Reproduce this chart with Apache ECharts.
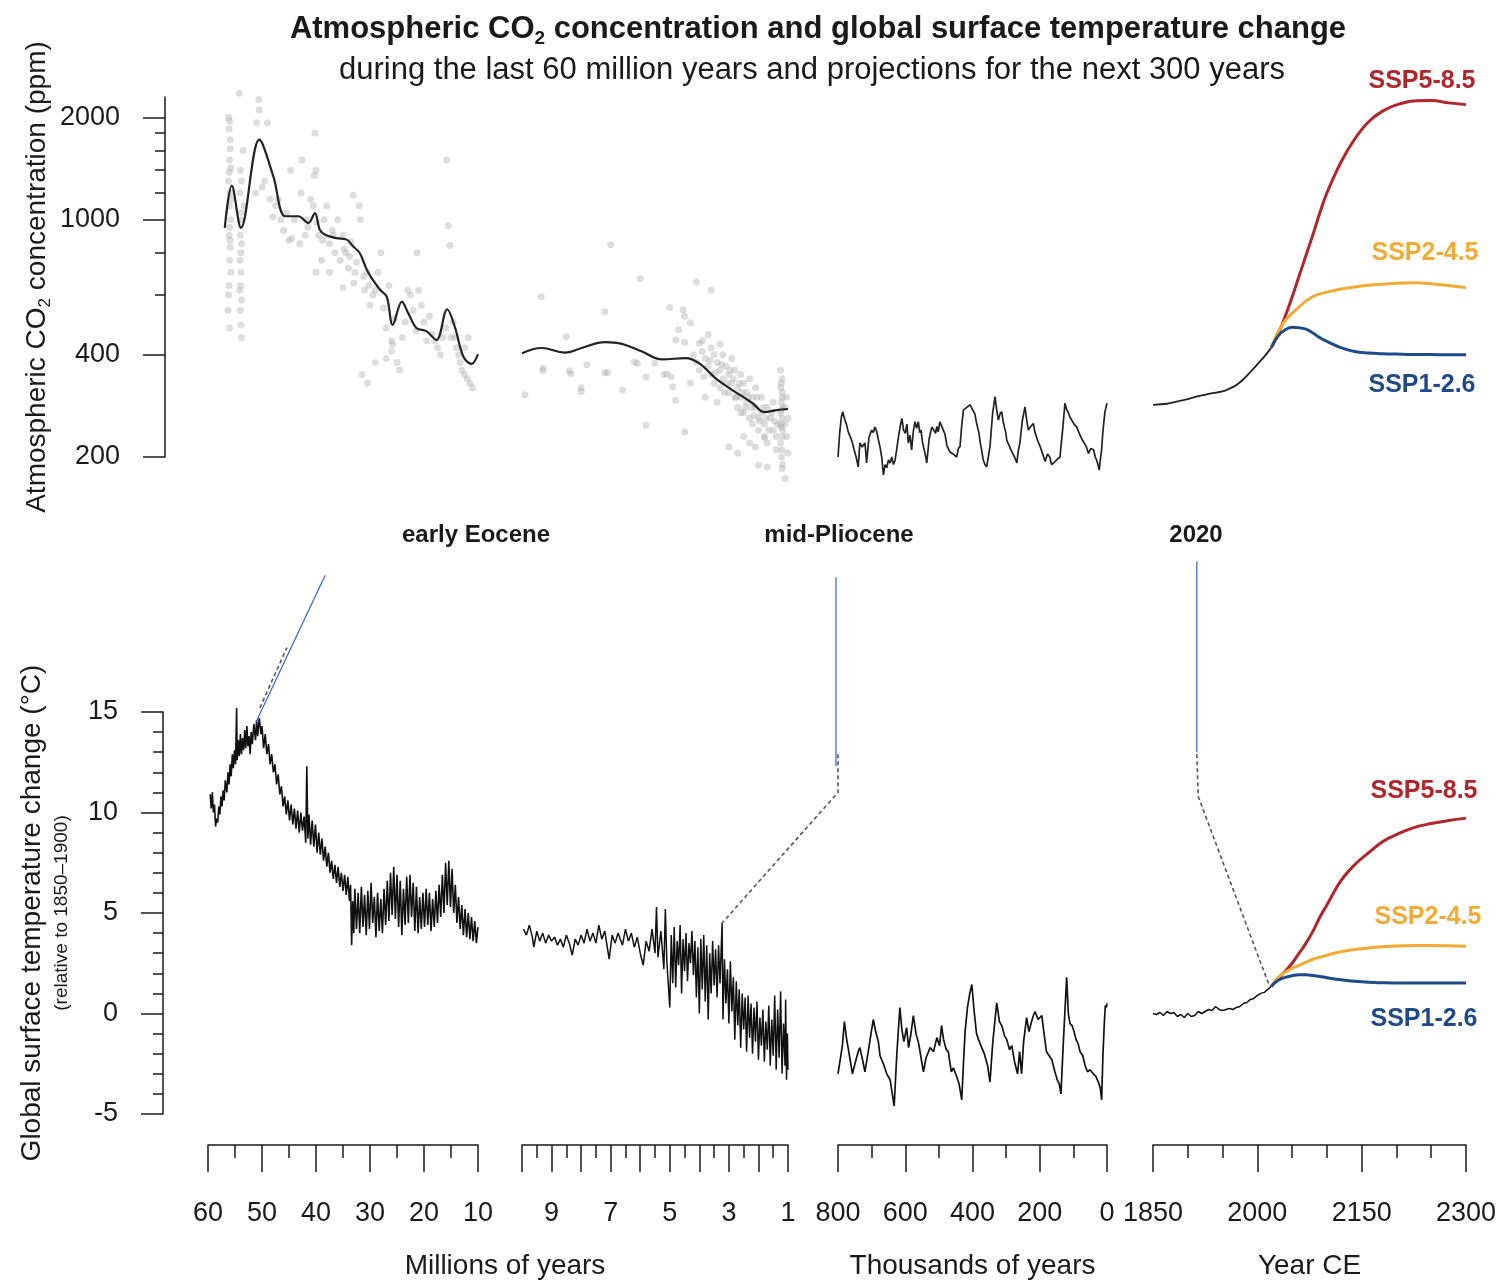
<!DOCTYPE html>
<html>
<head>
<meta charset="utf-8">
<script src="https://cdn.jsdelivr.net/npm/echarts@6/dist/echarts.min.js"></script>
<style>
html, body { margin: 0; padding: 0; background: #fff; }
#chart { width: 1501px; height: 1284px; }
</style>
</head>
<body>
<div id="chart"></div>
<script>
// ---- data ----
// CO2 (ppm), 60-10 Myr: proxy points and smoothed fit
var co2ProxyEarly = [
  [56.2,2000],[56.0,1950],[56.1,1850],[55.9,1720],[56.0,1500],[55.8,1420],[56.2,1300],[55.9,1200],[56.0,1100],[55.8,1000],[56.1,900],[55.9,830],[56.0,760],[55.8,700],[56.1,640],[56.3,540],
  [55.9,1620],[56.1,1380],[55.8,1150],[56.0,950],[55.9,870],[56.2,600],[56.0,480],
  [54.0,1400],[53.8,1300],[54.1,1200],[53.9,1050],[54.0,900],[53.8,850],[54.1,760],[53.9,700],[54.0,640],[53.8,580],[54.0,540],[53.9,490],
  [54.0,1000],[53.9,800],[54.1,620],[53.8,450],
  [54.2,2360],[53.5,1600],[53.3,1100],[50.6,2260],[50.5,2110],[51.0,1930],[49.0,1930],[50.0,1250],[51.2,1200],[49.5,1300],[48.5,1150],[47.5,1100],
  [47.0,1150],[46.5,1000],[45.5,1050],[44.7,1400],[44.0,1000],[42.6,1500],[42.8,1200],[40.2,1800],[40.0,1400],[40.3,1350],[41.0,1150],[40.5,1100],
  [41.5,950],[42.0,900],[43.0,850],[44.5,880],[40.0,700],[39.5,900],[38.5,1000],[38.0,1100],[37.5,850],[37.0,930],[36.5,800],[36.0,1000],[35.5,760],
  [35.0,900],[34.5,800],[34.0,720],[33.5,860],[33.1,1180],[33.0,650],[32.5,750],[32.0,1100],[31.8,1000],[31.0,620],[30.5,700],[30.0,560],[29.5,600],
  [29.0,620],[28.5,700],[28.0,800],[27.5,550],[27.0,480],[26.5,640],[26.0,440],[25.8,430],[25.5,510],[25.0,380],[24.5,360],[24.0,450],[23.5,500],
  [23.0,620],[22.5,600],[22.0,540],[21.5,470],[21.3,800],[21.0,620],[20.5,560],[20.0,500],[19.5,440],[19.0,520],[18.5,460],[18.0,440],[17.5,420],
  [17.0,400],[16.5,450],[16.0,480],[15.8,1500],[15.5,960],[15.2,840],[15.0,450],[14.6,500],[14.2,450],[14.0,420],[13.6,400],[13.3,380],[13.0,360],
  [12.5,350],[12.0,340],[11.5,330],[11.0,320],[12.5,420],[11.8,450],[30.5,330],[31.5,350],[29.0,380],[27.0,390],[26.0,410],[35.0,630],[37.5,700],
  [39.0,760],[45.0,870],[46.0,930],[48.0,1020],[41.8,1000],[39.8,980],[38.8,870],[36.8,900],[34.8,820],[33.8,780],[32.8,700],[31.2,680],[30.2,640]
];
var co2FitEarly = [
  [56.9,947],[55.6,1260],[53.9,947],[50.5,1722],[47.9,1342],[45.7,1024],[43.3,1024],[41.4,978],[40.2,1047],[39.3,935],[38.3,904],[36.2,883],
  [34.3,874],[33.1,834],[31.9,798],[30.6,713],[29.7,673],[28.1,621],[26.9,594],[25.8,490],[24.1,574],[22.9,530],[21.4,480],[19.5,469],
  [17.7,442],[15.7,545],[14.3,484],[12.7,395],[11.2,376],[10.0,402]
];
// CO2 (ppm), 10-1 Myr
var co2ProxyLate = [
  [9.9,305],[9.35,593],[9.3,359],[9.28,365],[8.5,452],[8.4,359],[8.35,352],[8.0,320],[8.0,312],[7.8,374],[7.2,536],[7.0,844],[7.2,354],[7.1,354],
  [6.6,315],[6.2,381],[6.1,378],[6.0,670],[5.8,344],[5.8,248],[5.5,378],[5.0,551],[5.2,350],[5.1,352],[4.95,345],[4.8,442],[4.7,474],[4.55,543],
  [4.5,520],[4.5,436],[4.3,497],[4.1,656],[3.7,458],[3.6,621],[4.0,433],[4.5,237],[4.8,294],[4.9,322],
  [4.2,400],[4.1,380],[4.0,360],[3.9,410],[3.8,390],[3.7,370],[3.6,350],[3.5,400],[3.5,330],[3.4,380],[3.3,360],[3.3,320],[3.2,400],[3.2,340],
  [3.1,370],[3.0,310],[3.0,350],[2.9,390],[2.9,330],[2.8,300],[2.8,360],[2.7,320],[2.7,280],[2.6,350],[2.6,300],[2.5,330],[2.5,270],[2.4,310],
  [2.4,290],[2.3,260],[2.3,340],[2.2,300],[2.2,250],[2.1,280],[2.1,320],[2.0,260],[2.0,240],[1.9,300],[1.9,270],[1.8,250],[1.8,230],[1.7,280],
  [1.7,220],[1.6,260],[1.5,240],[1.5,290],[1.4,230],[1.4,210],[3.0,214],[2.7,205],[2.0,189],[1.7,187],[1.1,173],[1.0,205],[2.1,214],[1.8,228],
  [2.5,230],[2.3,220],[3.4,290],[3.8,300],[4.3,330],[3.9,440],[3.3,430],[3.6,420],
  [3.85,345],[3.65,385],[3.45,355],[3.25,375],[3.05,330],[2.95,360],[2.85,340],[2.75,300],[2.65,330],[2.55,310],[2.45,280],[2.35,300],
  [2.25,280],[2.15,265],[2.05,300],[1.95,255],[1.85,280],[1.75,260],[1.65,240],[1.55,270],[1.45,255],[1.35,250],[3.15,310],[2.6,270],
  [1.25,360],[1.2,340],[1.25,320],[1.2,300],[1.22,290],[1.18,280],[1.25,270],[1.2,260],[1.22,250],[1.18,240],[1.2,230],[1.25,220],[1.2,210],
  [1.22,200],[1.18,190],[1.2,185],[1.1,280],[1.05,300],[1.1,250],[1.05,230],[1.0,260],[1.23,330],[1.19,310],[1.24,245],[1.21,275]
];
var co2FitLate = [
  [10.0,404],[9.34,419],[8.55,406],[7.98,419],[7.19,436],[6.62,431],[5.94,409],[5.26,388],[4.47,391],[4.01,378],[3.45,341],[2.88,315],
  [2.20,288],[1.80,271],[1.40,275],[1.0,277]
];
// CO2 (ppm), ice cores, 800-0 kyr
var co2IceCore = [
  [800,200],[795,235],[790,262],[786,272],[780,258],[775,250],[770,238],[764,230],[758,222],[752,210],[746,200],[740,187],[737,205],[735,220],[728,214],
  [720,220],[717,205],[715,192],[708,228],[700,240],[695,236],[690,245],[685,238],[680,225],[675,214],[670,200],[665,177],[660,190],
  [655,186],[650,196],[645,192],[640,200],[635,190],[630,196],[625,212],[620,230],[615,246],[610,260],[605,240],[600,235],[595,250],[591,220],[586,232],[581,210],
  [576,238],[571,254],[566,243],[561,254],[557,236],[553,240],[549,222],[546,215],[541,205],[536,192],[529,226],[521,245],[515,240],[510,235],[506,246],[502,237],
  [497,254],[492,251],[487,240],[482,234],[476,216],[467,207],[457,204],[447,200],[442,212],[437,215],[432,248],[427,275],[417,280],[407,285],[400,276],[393,268],
  [388,252],[385,245],[381,236],[378,224],[373,210],[368,196],[363,190],[358,187],[353,200],[348,215],[340,270],[333,301],[328,275],[323,257],[318,268],[313,272],
  [309,255],[305,245],[301,236],[298,224],[290,215],[283,207],[275,200],[268,192],[264,208],[259,220],[252,255],[244,281],[239,258],[234,240],[227,246],
  [219,251],[214,236],[210,230],[205,222],[199,215],[192,205],[184,194],[177,204],[170,200],[165,190],[159,192],[150,196],[140,200],[132,240],[125,288],
  [120,276],[115,270],[110,262],[105,260],[98,250],[90,245],[85,238],[80,235],[75,226],[70,227],[62,215],[55,205],[48,212],[40,210],[35,200],
  [30,195],[26,188],[23,183],[20,196],[16,210],[13,232],[10,250],[6,272],[3,280],[0,288]
];
// CO2 (ppm), 1850-2020 and SSP scenarios to 2300
var co2HistYears = [1850, 1870, 1890, 1910, 1930, 1950, 1960, 1970, 1980, 1990, 2000, 2010, 2020];
var co2Hist = [285, 287, 293, 300, 307, 312, 318, 326, 339, 356, 375, 395, 420];
var sspYears = [2020, 2030, 2040, 2050, 2060, 2070, 2080, 2090, 2100, 2120, 2140, 2160, 2180, 2200, 2225, 2250, 2275, 2300];
var co2Ssp585 = [420, 462, 519, 592, 683, 786, 905, 1050, 1199, 1475, 1730, 1945, 2090, 2180, 2240, 2245, 2210, 2184];
var co2Ssp245 = [420, 468, 505, 530, 553, 577, 594, 605, 612, 625, 634, 641, 646, 650, 652, 648, 640, 630];
var co2Ssp126 = [420, 455, 474, 482, 481, 476, 464, 449, 438, 420, 409, 405, 403, 402, 401, 401, 400, 400];

// temperature change (°C), 60-10 Myr
var tempEarly = [
  [59.6,10.9],[59.4,10.2],[59.2,11.0],[59.0,10.0],[58.8,10.4],[58.6,9.3],[58.4,9.7],[58.2,9.5],[58.0,10.3],[57.8,9.9],[57.6,10.8],[57.4,10.3],
  [57.2,11.1],[57.0,10.6],[56.8,11.6],[56.5,11.0],[56.3,12.0],[56.1,11.4],[55.9,12.4],[55.7,11.8],[55.5,12.9],[55.3,12.2],[55.1,13.1],[54.9,12.4],
  [54.7,15.2],[54.6,12.6],[54.4,13.6],[54.2,12.8],[54.0,13.9],[53.8,12.9],[53.6,13.7],[53.4,13.1],[53.2,14.1],[53.0,13.2],[52.8,14.3],[52.6,13.3],
  [52.4,13.8],[52.2,12.9],[52.0,14.0],[51.8,13.4],[51.5,14.4],[51.2,13.6],[51.0,14.6],[50.8,13.8],[50.5,14.7],[50.2,13.9],[50.0,14.3],[49.7,13.2],
  [49.4,13.9],[49.1,12.9],[48.8,13.4],[48.5,12.4],[48.2,12.9],[47.9,12.0],[47.6,12.4],[47.3,11.4],[47.0,11.9],[46.7,10.9],[46.4,11.3],[46.1,10.3],
  [45.8,10.8],[45.5,9.9],[45.2,10.6],[44.9,9.6],[44.6,10.4],[44.3,9.4],[44.0,10.2],[43.7,9.2],[43.4,10.1],[43.1,9.0],[42.8,10.0],[42.5,9.1],
  [42.2,9.8],[41.9,8.5],[41.7,12.3],[41.5,8.7],[41.3,9.9],[41.0,8.4],[40.7,9.6],[40.4,8.3],[40.1,9.4],[39.8,8.0],[39.5,9.0],[39.2,7.9],
  [38.9,8.7],[38.6,7.6],[38.3,8.3],[38.0,7.3],[37.7,8.0],[37.4,7.0],[37.1,7.6],[36.8,6.7],[36.5,7.4],[36.2,6.5],[35.9,7.3],[35.6,6.3],
  [35.3,7.0],[35.0,6.1],[34.7,6.9],[34.4,5.9],[34.1,6.8],[33.8,5.6],[33.6,6.4],[33.4,3.4],[33.2,5.6],[33.0,4.0],[32.8,6.2],[32.5,4.2],
  [32.2,6.0],[31.9,4.0],[31.6,6.3],[31.3,4.3],[31.0,5.9],[30.7,3.9],[30.4,6.1],[30.1,4.2],[29.8,6.5],[29.5,4.5],[29.2,5.8],[28.9,3.8],
  [28.6,6.0],[28.3,4.1],[28.0,5.7],[27.7,4.0],[27.4,6.2],[27.1,4.4],[26.8,6.6],[26.5,4.6],[26.2,7.0],[25.9,4.9],[25.6,7.3],[25.3,4.7],
  [25.0,6.9],[24.7,4.3],[24.4,6.6],[24.1,3.9],[23.8,6.2],[23.5,4.4],[23.2,6.8],[22.9,4.5],[22.6,6.9],[22.3,4.8],[22.0,6.5],[21.7,4.1],
  [21.4,6.3],[21.1,4.0],[20.8,5.8],[20.5,4.2],[20.2,6.0],[19.9,4.3],[19.6,6.2],[19.3,4.4],[19.0,6.0],[18.7,4.1],[18.4,5.7],[18.1,4.3],
  [17.8,6.1],[17.5,4.5],[17.2,6.4],[16.9,4.8],[16.6,6.9],[16.3,5.0],[16.0,7.5],[15.7,5.4],[15.4,7.6],[15.1,5.3],[14.8,7.2],[14.5,5.0],
  [14.2,6.4],[13.9,4.5],[13.6,5.8],[13.3,4.2],[13.0,5.4],[12.7,3.9],[12.4,5.2],[12.1,3.8],[11.8,5.0],[11.5,3.7],[11.2,4.8],[10.9,3.6],
  [10.6,4.6],[10.3,3.5],[10.0,4.3]
];
// temperature change (°C), 10-1 Myr
var tempLate = [
  [9.95,4.2],[9.85,3.9],[9.75,4.4],[9.65,3.8],[9.6,3.3],[9.5,4.1],[9.4,3.6],[9.3,4.0],[9.2,3.5],[9.1,3.9],[9.0,3.6],[8.9,3.8],[8.8,3.4],
  [8.7,3.7],[8.6,3.3],[8.5,3.9],[8.4,3.5],[8.3,2.9],[8.2,3.7],[8.1,3.4],[8.0,3.9],[7.9,3.5],[7.8,4.2],[7.7,3.6],[7.6,4.0],[7.5,3.5],
  [7.4,4.4],[7.3,3.7],[7.2,4.1],[7.05,2.7],[6.95,3.9],[6.85,3.5],[6.75,4.0],[6.6,3.4],[6.5,4.2],[6.4,3.6],[6.3,4.0],[6.2,3.3],[6.1,3.8],
  [6.0,3.0],[5.9,2.4],[5.8,3.6],[5.7,3.1],[5.6,4.2],[5.5,3.0],[5.45,5.3],[5.4,2.8],[5.3,4.1],[5.2,2.2],[5.15,5.2],[5.1,2.6],[5.0,0.3],
  [4.95,3.9],[4.9,1.5],[4.85,4.3],[4.8,1.3],[4.75,3.6],[4.7,2.4],[4.65,4.4],[4.6,1.0],[4.55,3.7],[4.5,2.1],[4.45,4.0],[4.4,1.6],[4.35,3.5],
  [4.3,2.5],[4.25,4.1],[4.2,1.9],[4.15,3.6],[4.1,0.8],[4.05,3.3],[4.0,0.0],[3.95,3.7],[3.9,1.2],[3.85,3.9],[3.8,0.6],[3.75,3.4],[3.7,-0.3],
  [3.65,3.0],[3.6,1.0],[3.55,3.6],[3.5,1.4],[3.45,3.2],[3.4,0.8],[3.35,3.4],[3.3,1.5],[3.23,4.5],[3.2,-0.3],[3.15,2.7],[3.1,0.5],[3.05,2.2],
  [3.0,-0.5],[2.95,2.6],[2.9,0.1],[2.85,1.8],[2.8,-1.3],[2.75,1.6],[2.7,-0.6],[2.65,1.2],[2.6,-1.7],[2.55,1.0],[2.5,-0.8],[2.45,0.8],
  [2.4,-1.9],[2.35,0.9],[2.3,-1.2],[2.25,0.5],[2.2,-2.0],[2.15,0.3],[2.1,-1.4],[2.05,0.6],[2.0,-2.3],[1.95,-0.2],[1.9,-1.6],[1.85,0.2],
  [1.8,-2.4],[1.75,-0.4],[1.7,-1.8],[1.65,0.4],[1.6,-2.6],[1.55,-0.3],[1.5,-2.1],[1.45,0.9],[1.4,-2.8],[1.35,0.2],[1.3,-2.2],[1.25,1.1],
  [1.2,-3.0],[1.15,-0.5],[1.1,-2.6],[1.08,0.7],[1.05,-3.3],[1.02,-1.0],[1.0,-2.8]
];
// temperature change (°C), 800-0 kyr
var tempIceAge = [
  [800,-3.0],[796,-3.03],[787,-1.6],[781,-0.4],[775,-1.2],[767,-2.0],[757,-3.0],[748,-2.4],[740,-1.9],[735,-1.7],[727,-2.3],[720,-2.9],
  [710,-1.9],[700,-0.8],[695,-0.3],[688,-0.9],[680,-1.4],[675,-2.1],[665,-2.5],[655,-3.0],[645,-3.3],[633,-4.6],[625,-2.0],[616,0.3],
  [610,-0.8],[604,-1.4],[596,-0.7],[590,-1.7],[583,-1.0],[576,-0.1],[568,-1.0],[560,-1.5],[551,-2.4],[546,-2.9],[538,-2.2],[526,-1.7],
  [516,-1.9],[506,-1.2],[498,-1.6],[492,-0.6],[486,-1.3],[478,-1.8],[472,-1.9],[463,-2.9],[457,-2.7],[448,-3.1],[440,-3.5],[432,-4.3],
  [427,-2.5],[422,-0.9],[415,0.3],[408,1.0],[402,1.44],[395,0.1],[388,-1.0],[382,-1.3],[375,-1.6],[365,-2.0],[355,-2.6],[348,-3.4],
  [340,-1.5],[333,-0.3],[328,0.53],[320,-0.4],[313,-0.6],[305,-1.1],[298,-1.3],[290,-1.8],[283,-1.6],[275,-2.4],[266,-3.0],[260,-1.9],
  [254,-3.0],[248,-1.4],[239,-0.2],[232,-0.9],[226,-0.5],[219,-0.1],[214,0.1],[205,-0.3],[194,-0.1],[188,-0.9],[180,-1.9],[172,-2.1],
  [164,-2.3],[155,-2.9],[148,-3.3],[142,-3.5],[137,-4.0],[130,-1.5],[120,1.8],[115,0.0],[110,-0.5],[104,-0.6],[98,-0.9],[92,-1.3],
  [86,-1.5],[80,-1.9],[72,-2.1],[65,-2.6],[58,-2.9],[50,-2.8],[41,-3.0],[34,-3.1],[26,-3.4],[20,-3.7],[16,-4.3],[12,-2.0],[8,-0.5],
  [5,0.4],[2,0.3],[0,0.5]
];
// temperature change (°C), 1850-2020 and SSP scenarios
var tempHistYears = [1850,1855,1860,1865,1870,1875,1880,1885,1890,1895,1900,1905,1910,1915,1920,1925,1930,1935,1940,1945,1950,
  1955,1960,1965,1970,1975,1980,1985,1990,1995,2000,2005,2010,2015,2020];
var tempHist = [0.0,-0.05,0.05,-0.1,0.1,0.0,0.05,-0.15,-0.05,-0.2,0.0,-0.15,-0.1,0.1,0.0,0.1,0.2,0.15,0.35,0.2,0.15,
  0.2,0.25,0.2,0.3,0.35,0.5,0.55,0.7,0.75,0.9,1.0,1.05,1.2,1.35];
var tempSsp585 = [1.35, 1.75, 2.1, 2.5, 3.0, 3.5, 4.1, 4.8, 5.4, 6.6, 7.4, 8.0, 8.55, 8.9, 9.25, 9.45, 9.6, 9.72];
var tempSsp245 = [1.35, 1.8, 2.05, 2.25, 2.4, 2.55, 2.7, 2.8, 2.9, 3.07, 3.18, 3.26, 3.32, 3.36, 3.38, 3.38, 3.37, 3.35];
var tempSsp126 = [1.35, 1.65, 1.8, 1.88, 1.93, 1.93, 1.89, 1.84, 1.78, 1.68, 1.6, 1.55, 1.53, 1.52, 1.52, 1.52, 1.52, 1.52];

// tick values
var co2TickLabels = [200, 400, 1000, 2000];
var co2MinorTicks = [600, 800, 1200, 1400, 1600, 1800];
var yearMajorTicks = [1850, 2000, 2150, 2300];

// leader lines linking the three reference periods (in each panel's own units)
var eoceneLeader = [[38.3, 21.8], [51.1, 14.5]];
var eoceneDash = [[50.4, 15.2], [45.4, 18.2]];
var plioLeader = [[806, 21.7], [806, 12.3]];
var plioDashUpper = [[800, 12.9], [800, 11.0]];
var plioDashLower = [3.23, 4.5];
var nowLeader = [[1913, 22.5], [1913, 13.0]];
var nowDash = [[1913, 12.9], [1915, 10.8], [2017, 1.4]];

// ---- layout ----
var FONT = '"Liberation Sans",Arial,sans-serif';
var INK = '#1a1a1a';
var RED = '#B1252B', ORANGE = '#F3AA35', BLUE = '#1F4A8A';
var panelLeft = [208, 522, 838, 1153];
var panelWidth = [270, 266, 269, 313];
var panelMin = [10, 1, 0, 1850];
var panelMax = [60, 10, 800, 2300];
var panelInverse = [true, true, true, false];
var panelInterval = [10, 1, 200, 50];
var panelMinorSplit = [2, 2, 2, 0];

function zip(xs, ys) {
    return xs.map(function (x, i) { return [x, ys[i]]; });
}
function plain(v) { return String(v); }

var chart = echarts.init(document.getElementById('chart'));

var grids = [];
for (var i = 0; i < 4; i++) grids.push({left: panelLeft[i], width: panelWidth[i], top: 97, height: 360});
for (var i = 0; i < 4; i++) grids.push({left: panelLeft[i], width: panelWidth[i], top: 712, height: 402});

var lineStyleInk = {color: INK, width: 1.5};
var xAxes = [];
for (var i = 0; i < 4; i++) {
    xAxes.push({gridIndex: i, type: 'value', min: panelMin[i], max: panelMax[i], inverse: panelInverse[i], show: false});
}
for (var i = 0; i < 4; i++) {
    xAxes.push({
        gridIndex: 4 + i, type: 'value', position: 'bottom', offset: 31,
        min: panelMin[i], max: panelMax[i], inverse: panelInverse[i], interval: panelInterval[i],
        axisLine: {show: true, onZero: false, lineStyle: lineStyleInk},
        axisTick: {show: true, length: 27, lineStyle: lineStyleInk},
        minorTick: {show: panelMinorSplit[i] > 0, splitNumber: panelMinorSplit[i] || 5, length: 13, lineStyle: lineStyleInk},
        axisLabel: {fontFamily: FONT, fontSize: 27, color: INK, margin: 55, formatter: plain},
        splitLine: {show: false},
        minorSplitLine: {show: false},
        nameLocation: 'middle', nameGap: 107,
        nameTextStyle: {fontFamily: FONT, fontSize: 28, color: INK}
    });
}
xAxes[5].axisLabel.formatter = function (v) { return v % 2 === 1 ? String(v) : ''; };
xAxes[6].name = 'Thousands of years';
xAxes[7].name = 'Year CE';
xAxes[7].axisTick.length = 13;
xAxes[7].axisLabel.customValues = yearMajorTicks;
xAxes.push({
    gridIndex: 7, type: 'value', position: 'bottom', offset: 31, min: 1850, max: 2300,
    axisLine: {show: false, onZero: false},
    axisTick: {show: true, customValues: yearMajorTicks, length: 27, lineStyle: lineStyleInk},
    axisLabel: {show: false},
    splitLine: {show: false}
});

var yAxes = [];
for (var i = 0; i < 4; i++) yAxes.push({gridIndex: i, type: 'log', logBase: 10, min: 200, max: 2300, show: false, splitLine: {show: false}});
for (var i = 0; i < 4; i++) yAxes.push({gridIndex: 4 + i, type: 'value', min: -5, max: 15, interval: 5, show: false, splitLine: {show: false}});

yAxes[0] = {
    gridIndex: 0, type: 'log', logBase: 10, min: 200, max: 2300, position: 'left', offset: 43,
    axisLine: {show: true, onZero: false, lineStyle: lineStyleInk},
    axisTick: {show: true, customValues: co2TickLabels, length: 22, lineStyle: lineStyleInk},
    axisLabel: {customValues: co2TickLabels, fontFamily: FONT, fontSize: 27, color: INK, margin: 45, formatter: plain},
    splitLine: {show: false},
    name: '{n|Atmospheric CO}{s|2}{n| concentration (ppm)}',
    nameLocation: 'middle', nameRotate: 90, nameGap: 111,
    nameTextStyle: {
        fontFamily: FONT, fontSize: 28, color: INK,
        rich: {
            n: {fontFamily: FONT, fontSize: 28, color: INK, lineHeight: 34},
            s: {fontFamily: FONT, fontSize: 17, color: INK, verticalAlign: 'bottom', lineHeight: 34}
        }
    }
};
yAxes[4] = {
    gridIndex: 4, type: 'value', min: -5, max: 15, interval: 5, position: 'left', offset: 45,
    axisLine: {show: true, onZero: false, lineStyle: lineStyleInk},
    axisTick: {show: true, length: 22, lineStyle: lineStyleInk},
    minorTick: {show: true, splitNumber: 5, length: 10, lineStyle: lineStyleInk},
    axisLabel: {fontFamily: FONT, fontSize: 27, color: INK, margin: 45, formatter: plain},
    splitLine: {show: false},
    minorSplitLine: {show: false},
    name: '{n|Global surface temperature change (°C)}\n{m|(relative to 1850–1900)}',
    nameLocation: 'middle', nameRotate: 90, nameGap: 88,
    nameTextStyle: {
        fontFamily: FONT, fontSize: 28, color: INK,
        rich: {
            n: {fontFamily: FONT, fontSize: 28, color: INK, lineHeight: 34},
            m: {fontFamily: FONT, fontSize: 19, color: INK, lineHeight: 26}
        }
    }
};
yAxes.push({
    gridIndex: 0, type: 'log', logBase: 10, min: 200, max: 2300, position: 'left', offset: 43,
    axisLine: {show: false, onZero: false},
    axisTick: {show: true, customValues: co2MinorTicks, length: 10, lineStyle: lineStyleInk},
    axisLabel: {show: false},
    splitLine: {show: false}
});

function lineSeries(panel, data, color, width, smooth) {
    return {
        type: 'line', xAxisIndex: panel, yAxisIndex: panel, data: data,
        showSymbol: false, symbol: 'none', smooth: smooth || false, clip: false,
        lineStyle: {color: color, width: width}, silent: true, z: 3
    };
}
function proxySeries(panel, data) {
    return {
        type: 'scatter', xAxisIndex: panel, yAxisIndex: panel, data: data, clip: false,
        symbolSize: 7, itemStyle: {color: 'rgba(170,170,170,0.5)'}, silent: true, z: 2
    };
}

var series = [
    proxySeries(0, co2ProxyEarly),
    lineSeries(0, co2FitEarly, '#222', 2.2, 0.35),
    proxySeries(1, co2ProxyLate),
    lineSeries(1, co2FitLate, '#222', 2.2, 0.4),
    lineSeries(2, co2IceCore, '#222', 1.7),
    lineSeries(3, zip(co2HistYears, co2Hist), '#222', 1.8, 0.3),
    lineSeries(3, zip(sspYears, co2Ssp585), RED, 3, 0.4),
    lineSeries(3, zip(sspYears, co2Ssp245), ORANGE, 3, 0.4),
    lineSeries(3, zip(sspYears, co2Ssp126), BLUE, 3, 0.4),
    lineSeries(4, tempEarly, '#111', 1.6),
    lineSeries(5, tempLate, '#111', 1.5),
    lineSeries(6, tempIceAge, '#111', 1.7),
    lineSeries(7, zip(tempHistYears, tempHist), '#111', 1.5),
    lineSeries(7, zip(sspYears, tempSsp585), RED, 3, 0.4),
    lineSeries(7, zip(sspYears, tempSsp245), ORANGE, 3, 0.4),
    lineSeries(7, zip(sspYears, tempSsp126), BLUE, 3, 0.4)
];

chart.setOption({
    animation: false,
    backgroundColor: '#fff',
    grid: grids,
    xAxis: xAxes,
    yAxis: yAxes,
    series: series
});

// ---- free text and leader lines ----
function text(x, y, str, size, weight, color, rich) {
    return {
        type: 'text', x: x, y: y, silent: true, z: 10,
        style: {
            text: str, fontFamily: FONT, fontSize: size, fontWeight: weight || 'normal',
            fill: color || INK, align: 'center', verticalAlign: 'middle',
            textAlign: 'center', textVerticalAlign: 'middle', rich: rich
        }
    };
}
function px(panel, pt) {
    return chart.convertToPixel({xAxisIndex: panel, yAxisIndex: panel}, pt);
}
function leader(points, dashed) {
    return {
        type: 'polyline', silent: true, z: 9,
        shape: {points: points},
        style: dashed
            ? {stroke: '#555', lineWidth: 1.6, lineDash: [4, 3], fill: null}
            : {stroke: '#2F62D6', lineWidth: 1.2, fill: null}
    };
}

var graphics = [
    text(818, 29, '{b|Atmospheric CO}{bs|2}{b| concentration and global surface temperature change}', 31, 'bold', INK, {
        b: {fontFamily: FONT, fontSize: 31, fontWeight: 'bold', fill: INK, lineHeight: 38},
        bs: {fontFamily: FONT, fontSize: 19, fontWeight: 'bold', fill: INK, verticalAlign: 'bottom', lineHeight: 38}
    }),
    text(812, 70, 'during the last 60 million years and projections for the next 300 years', 31),
    text(505, 1266, 'Millions of years', 28),
    text(476, 535, 'early Eocene', 24, 'bold'),
    text(839, 535, 'mid-Pliocene', 24, 'bold'),
    text(1196, 535, '2020', 24, 'bold'),
    text(1422, 81, 'SSP5-8.5', 25, 'bold', RED),
    text(1425, 253, 'SSP2-4.5', 25, 'bold', ORANGE),
    text(1422, 385, 'SSP1-2.6', 25, 'bold', BLUE),
    text(1424, 791, 'SSP5-8.5', 25, 'bold', RED),
    text(1428, 917, 'SSP2-4.5', 25, 'bold', ORANGE),
    text(1424, 1019, 'SSP1-2.6', 25, 'bold', BLUE),
    leader(eoceneLeader.map(function (p) { return px(4, p); })),
    leader(eoceneDash.map(function (p) { return px(4, p); }), true),
    leader(plioLeader.map(function (p) { return px(6, p); })),
    leader(plioDashUpper.map(function (p) { return px(6, p); }).concat([px(5, plioDashLower)]), true),
    leader(nowLeader.map(function (p) { return px(7, p); })),
    leader(nowDash.map(function (p) { return px(7, p); }), true)
];
chart.setOption({graphic: graphics});
</script>
</body>
</html>
